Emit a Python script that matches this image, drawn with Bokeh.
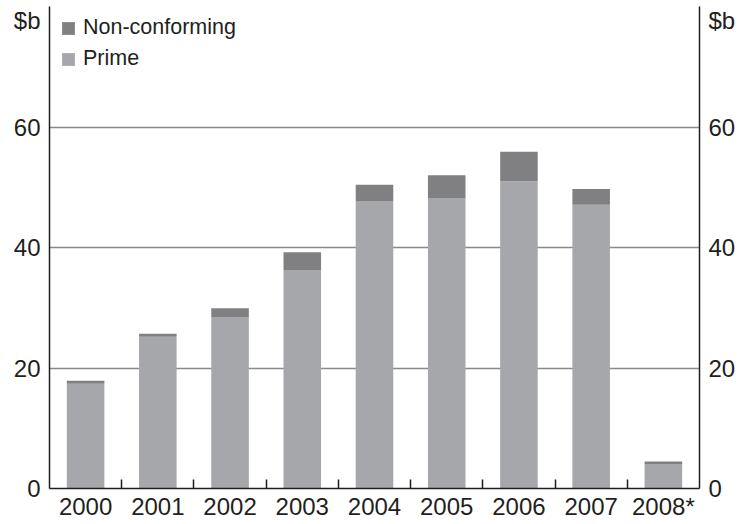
from bokeh.plotting import figure
from bokeh.models import (Range1d, FixedTicker, LinearAxis, Legend, LegendItem,
                          ColumnDataSource)
from bokeh.embed import file_html
from bokeh.resources import INLINE
import numpy as np

years = ["2000", "2001", "2002", "2003", "2004", "2005", "2006", "2007", "2008*"]
prime = [17.4, 25.2, 28.4, 36.2, 47.7, 48.2, 51.0, 47.1, 4.0]
non_conforming = [0.5, 0.5, 1.5, 3.0, 2.7, 3.8, 4.9, 2.6, 0.5]
y_ticks = [0, 20, 40, 60]
unit_label = "$b"
unit_label_pos = 77.7

FONT = "Liberation Sans"
TXT = "#231f20"
PRIME_C = "#a6a7aa"
NONC_C = "#808083"

xpos = (np.arange(len(years)) + 0.5).tolist()
src = ColumnDataSource(dict(x=xpos, prime=prime, non_conforming=non_conforming))

p = figure(width=738, height=522, output_backend="svg", toolbar_location=None,
           x_range=Range1d(0, len(years)), y_range=Range1d(0, 80),
           min_border_left=49, min_border_right=36, min_border_top=6, min_border_bottom=10)
p.outline_line_color = None
p.background_fill_color = "white"
p.border_fill_color = "white"

rs = p.vbar_stack(["prime", "non_conforming"], x="x", width=0.52, source=src,
                  color=[PRIME_C, NONC_C], line_color=None)

# x axis
xa = p.xaxis[0]
xa.ticker = FixedTicker(ticks=xpos, minor_ticks=list(range(1, len(years))))
xa.major_label_overrides = {x: y for x, y in zip(xpos, years)}
xa.major_tick_in = 0
xa.major_tick_out = 0
xa.minor_tick_in = 9
xa.minor_tick_out = 0
xa.minor_tick_line_color = "#231f20"
xa.minor_tick_line_width = 1.5
xa.axis_line_color = "#231f20"
xa.axis_line_width = 1.5
xa.major_label_standoff = 4
xa.major_label_text_font = FONT
xa.major_label_text_font_size = "24px"
xa.major_label_text_color = TXT

# y axes (unit label shown as an extra labelled position near the top)
ya = p.yaxis[0]
ra = LinearAxis()
p.add_layout(ra, "right")
for a in (ya, ra):
    a.ticker = FixedTicker(ticks=y_ticks + [unit_label_pos])
    a.major_label_overrides = {unit_label_pos: unit_label}
    a.major_tick_in = 0
    a.major_tick_out = 0
    a.minor_tick_in = 0
    a.minor_tick_out = 0
    a.axis_line_color = "#231f20"
    a.axis_line_width = 1.5
    a.major_label_standoff = 9
    a.major_label_text_font = FONT
    a.major_label_text_font_size = "24px"
    a.major_label_text_color = TXT

p.xgrid.grid_line_color = None
p.ygrid.ticker = FixedTicker(ticks=y_ticks)
p.ygrid.grid_line_color = "#8a8a8a"
p.ygrid.grid_line_width = 1.5

legend = Legend(items=[LegendItem(label="Non-conforming", renderers=[rs[1]]),
                       LegendItem(label="Prime", renderers=[rs[0]])],
                location=(11, 417), padding=0, margin=0, spacing=6,
                glyph_width=16, glyph_height=16, label_standoff=7,
                label_text_font=FONT, label_text_font_size="21.5px", label_text_color=TXT,
                border_line_alpha=0, background_fill_alpha=0)
p.add_layout(legend)

open("out.html", "w").write(file_html(p, INLINE))
